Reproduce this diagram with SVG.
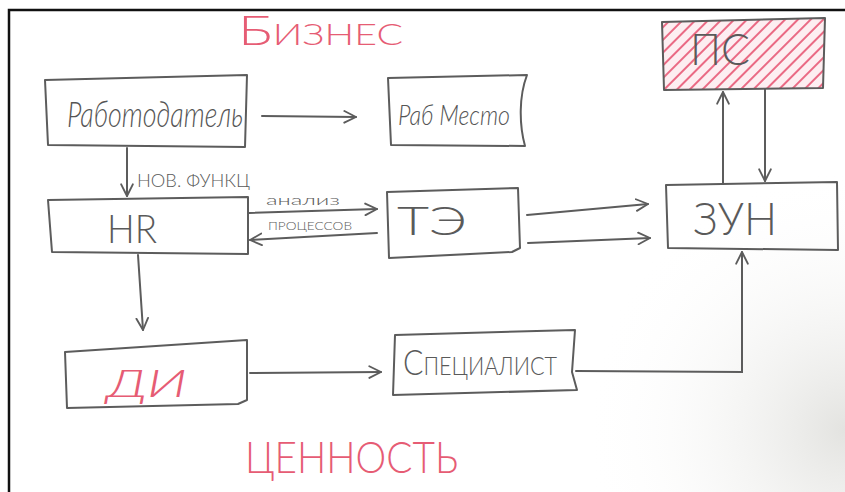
<svg xmlns="http://www.w3.org/2000/svg" width="845" height="492" viewBox="0 0 845 492">
  <defs>
    <style>
      .box { fill: none; stroke: #5c5c5c; stroke-width: 2; stroke-linejoin: round; }
      .edge { fill: none; stroke: #5c5c5c; stroke-width: 2; stroke-linecap: round; }
      .lbl { font-family: "Lato", "Open Sans", "Liberation Sans", sans-serif; font-weight: 300; fill: #5a5a5a; }
      .cur { font-family: "Lato", "Open Sans", "Liberation Sans", sans-serif; font-weight: 300; font-style: italic; fill: #555; }
      .red { fill: #e65c74; }
      .sc { font-variant: small-caps; }
    </style>
    <marker id="arr" viewBox="0 0 12 12" refX="11" refY="6" markerWidth="14" markerHeight="14" markerUnits="userSpaceOnUse" orient="auto">
      <path d="M1,1 L11,6 L1,11" fill="none" stroke="#5c5c5c" stroke-width="1.6" stroke-linecap="round" stroke-linejoin="round"/>
    </marker>
    <pattern id="hatch" width="9" height="9" patternUnits="userSpaceOnUse" patternTransform="rotate(45)">
      <line x1="2" y1="0" x2="2" y2="9" stroke="#ea6a84" stroke-width="2"/>
    </pattern>
    <radialGradient id="shade" cx="845" cy="430" r="260" gradientUnits="userSpaceOnUse">
      <stop offset="0" stop-color="#e3e3e0"/>
      <stop offset="1" stop-color="#ffffff" stop-opacity="0"/>
    </radialGradient>
  </defs>

  <rect x="0" y="0" width="845" height="492" fill="#ffffff"/>
  <rect x="0" y="0" width="845" height="492" fill="url(#shade)"/>
  <path d="M9,492 L9,10 L845,10" fill="none" stroke="#111" stroke-width="2.5"/>

  <g id="titles">
    <text class="lbl red sc" x="238" y="45" font-size="42" textLength="165" lengthAdjust="spacingAndGlyphs">Бизнес</text>
    <text class="lbl red" x="245" y="473" font-size="44" textLength="213" lengthAdjust="spacingAndGlyphs">ЦЕННОСТЬ</text>
  </g>

  <g id="connectors">
    <line class="edge" x1="262" y1="116" x2="356" y2="117" marker-end="url(#arr)"/>
    <line class="edge" x1="127" y1="148" x2="127" y2="196" marker-end="url(#arr)"/>
    <line class="edge" x1="249" y1="213" x2="377" y2="209" marker-end="url(#arr)"/>
    <line class="edge" x1="377" y1="233" x2="250" y2="240" marker-end="url(#arr)"/>
    <line class="edge" x1="527" y1="215" x2="648" y2="204" marker-end="url(#arr)"/>
    <line class="edge" x1="528" y1="243" x2="650" y2="238" marker-end="url(#arr)"/>
    <line class="edge" x1="723" y1="184" x2="723" y2="92" marker-end="url(#arr)"/>
    <line class="edge" x1="765" y1="89" x2="765" y2="181" marker-end="url(#arr)"/>
    <line class="edge" x1="138" y1="255" x2="143" y2="330" marker-end="url(#arr)"/>
    <line class="edge" x1="250" y1="373" x2="381" y2="372" marker-end="url(#arr)"/>
    <polyline class="edge" points="576,371 742,372 742,252" marker-end="url(#arr)"/>
    <text class="lbl" x="137" y="187" font-size="17" textLength="113" lengthAdjust="spacingAndGlyphs">НОВ. ФУНКЦ</text>
    <text class="lbl" x="266" y="205" font-size="13" textLength="74" lengthAdjust="spacingAndGlyphs">анализ</text>
    <text class="lbl sc" x="268" y="230" font-size="15" textLength="84" lengthAdjust="spacingAndGlyphs">процессов</text>
  </g>

  <g id="node-rabotodatel">
    <path class="box" d="M45,80 L247,75 L245,147 L48,145 Z"/>
    <text class="cur" x="67" y="127" font-size="36" textLength="176" lengthAdjust="spacingAndGlyphs">Работодатель</text>
  </g>

  <g id="node-rabmesto">
    <path class="box" d="M388,78 L527,75 C519,96 519,124 525,146 L391,145 Z"/>
    <text class="cur" x="398" y="125" font-size="28" textLength="112" lengthAdjust="spacingAndGlyphs">Раб Место</text>
  </g>

  <g id="node-ps">
    <path d="M662,22 L825,18 L823,88 L664,90 Z" fill="#fdeef1"/>
    <path d="M662,22 L825,18 L823,88 L664,90 Z" fill="url(#hatch)"/>
    <path class="box" d="M662,22 L825,18 L823,88 L664,90 Z"/>
    <text class="lbl" x="690" y="65" font-size="44" textLength="60" lengthAdjust="spacingAndGlyphs">ПС</text>
  </g>

  <g id="node-hr">
    <path class="box" d="M48,200 L248,197 L248,254 L52,252 Z"/>
    <text class="lbl" x="107" y="243" font-size="39" textLength="50" lengthAdjust="spacingAndGlyphs">HR</text>
  </g>

  <g id="node-te">
    <path class="box" d="M387,192 L518,188 L520,248 L512,252 L389,258 Z"/>
    <text class="lbl" x="397" y="235" font-size="39" textLength="70" lengthAdjust="spacingAndGlyphs">ТЭ</text>
  </g>

  <g id="node-zun">
    <path class="box" d="M666,185 L837,182 L838,250 L668,248 Z"/>
    <text class="lbl" x="693" y="235" font-size="46" textLength="84" lengthAdjust="spacingAndGlyphs">ЗУН</text>
  </g>

  <g id="node-di">
    <path class="box" d="M65,352 L247,340 L247,400 L238,404 L67,408 Z"/>
    <text class="cur red" x="107" y="397" font-size="38" textLength="80" lengthAdjust="spacingAndGlyphs">ДИ</text>
  </g>

  <g id="node-specialist">
    <path class="box" d="M395,335 L575,330 L572,372 L577,390 L393,395 Z"/>
    <text class="lbl sc" x="403" y="375" font-size="35" textLength="154" lengthAdjust="spacingAndGlyphs">Специалист</text>
  </g>
</svg>
